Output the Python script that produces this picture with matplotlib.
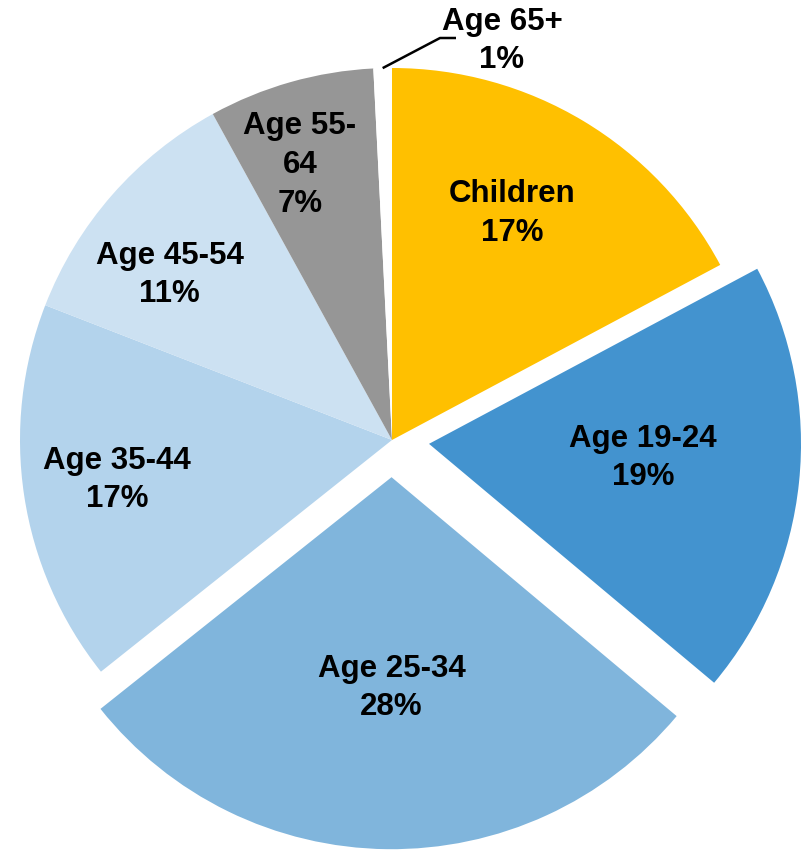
import numpy as np
import matplotlib
matplotlib.use("Agg")
import matplotlib.pyplot as plt

categories = ["Children", "Age 19-24", "Age 25-34", "Age 35-44", "Age 45-54", "Age 55-\n64", "Age 65+"]
values = [17.2, 18.9, 28.2, 16.6, 11.1, 7.2, 0.8]
pct_labels = ["17%", "19%", "28%", "17%", "11%", "7%", "1%"]

colors = ["#FFC000", "#4393CF", "#80B5DC", "#B3D3EC", "#CCE1F2", "#969696", "#FFFFFF"]
explode = [0, 0.1, 0.1, 0, 0, 0, 0]
# label position per slice: (radius fraction, angle in degrees) relative to wedge centre
label_pos = [(0.69, 62), (0.577, -3.8), (0.567, -90), (0.747, 188.3), (0.744, 143.4), (0.78, 108.5)]

W, H = 809, 852
cx, cy, R = 392, 440, 372
fig = plt.figure(figsize=(W / 100, H / 100), dpi=100)
ax = fig.add_axes([0, 0, 1, 1])
wedges, _ = ax.pie(values, colors=colors, explode=explode, startangle=90,
                   counterclock=False, radius=1, wedgeprops=dict(linewidth=0))
ax.set_xlim(-cx / R, (W - cx) / R)
ax.set_ylim(-(H - cy) / R, cy / R)
ax.set_aspect("equal")
ax.axis("off")

font = dict(family=["Liberation Sans", "DejaVu Sans"], fontweight="bold", fontsize=22.5)
for w, cat, pct, pos in zip(wedges[:-1], categories[:-1], pct_labels[:-1], label_pos):
    ccx, ccy = w.center
    r, a = pos
    x = ccx + r * np.cos(np.radians(a))
    y = ccy + r * np.sin(np.radians(a))
    ax.text(x, y, f"{cat}\n{pct}", ha="center", va="center", color="black",
            linespacing=1.38, **font)

# small slice with leader line
w = wedges[-1]
mid = np.radians((w.theta1 + w.theta2) / 2)
ex, ey = np.cos(mid), np.sin(mid)
kx, ky = (440 - cx) / R, (cy - 38) / R
hx = (456 - cx) / R
ax.plot([ex, kx, hx], [ey, ky, ky], color="black", lw=1.8, solid_capstyle="butt")
ax.text((502 - cx) / R, (cy - 41) / R, f"{categories[-1]}\n{pct_labels[-1]}",
        ha="center", va="center", linespacing=1.38, **font)

fig.savefig("out.png", dpi=100)
